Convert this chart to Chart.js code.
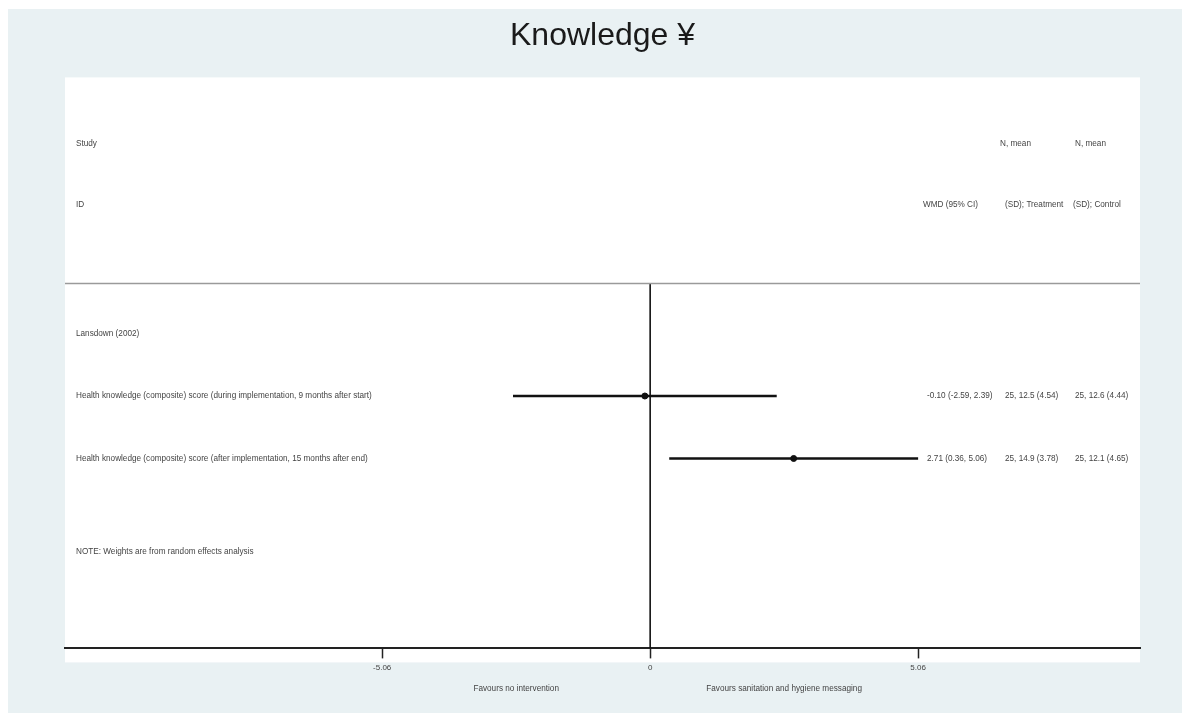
<!DOCTYPE html>
<html>
<head>
<meta charset="utf-8">
<title>Knowledge forest plot</title>
<script src="https://cdn.jsdelivr.net/npm/chart.js@4"></script>
<style>
    html, body { margin: 0; padding: 0; background: #ffffff; }
    #wrap { width: 1182px; height: 713px; }
</style>
</head>
<body>
<div id="wrap"><canvas id="forestChart" width="1182" height="713"></canvas></div>
<script>
// Study rows
const studyName = 'Lansdown (2002)';
const outcomes = [
    'Health knowledge (composite) score (during implementation, 9 months after start)',
    'Health knowledge (composite) score (after implementation, 15 months after end)'
];
const wmd = [-0.10, 2.71];
const lower = [-2.59, 0.36];
const upper = [2.39, 5.06];
const wmdText = ['-0.10 (-2.59, 2.39)', '2.71 (0.36, 5.06)'];
const treatmentText = ['25, 12.5 (4.54)', '25, 14.9 (3.78)'];
const controlText = ['25, 12.6 (4.44)', '25, 12.1 (4.65)'];

// Axis ticks
const tickValues = [-5.06, 0, 5.06];
const tickLabels = ['-5.06', '0', '5.06'];
const favourLabels = ['Favours no intervention', 'Favours sanitation and hygiene messaging'];

// row positions (y units, top = 0)
const headerRows = [1.06, 2.04];
const separatorRow = 3.3;
const studyRow = 4.1;
const outcomeRows = [5.1, 6.1];
const noteRow = 7.6;
const xMin = -11.05, xMax = 9.25, yMax = 9.14;

const textFont = '8.2px "Liberation Sans", Arial, sans-serif';
const textColor = '#444444';

// Function to paint the background panels
const backgroundPlugin = {
    id: 'background',
    beforeDraw(chart) {
        const ctx = chart.ctx;
        const area = chart.chartArea;
        ctx.save();
        ctx.fillStyle = '#ffffff';
        ctx.fillRect(0, 0, chart.width, chart.height);
        ctx.fillStyle = '#e9f1f3';
        ctx.fillRect(8, 9, chart.width - 8, chart.height - 9);
        ctx.fillStyle = '#ffffff';
        ctx.fillRect(area.left, area.top, area.right - area.left, area.bottom - area.top + 14);
        ctx.restore();
    }
};

// Function to write the table text next to the plot
const tablePlugin = {
    id: 'tableText',
    afterDraw(chart) {
        const ctx = chart.ctx;
        const x = chart.scales.x;
        const y = chart.scales.y;
        const left = chart.chartArea.left + 11;
        ctx.save();
        ctx.font = textFont;
        ctx.fillStyle = textColor;
        ctx.textBaseline = 'middle';
        ctx.textAlign = 'left';

        ctx.fillText('Study', left, y.getPixelForValue(headerRows[0]));
        ctx.fillText('ID', left, y.getPixelForValue(headerRows[1]));
        ctx.fillText('N, mean', 1000, y.getPixelForValue(headerRows[0]));
        ctx.fillText('N, mean', 1075, y.getPixelForValue(headerRows[0]));
        ctx.fillText('WMD (95% CI)', 923, y.getPixelForValue(headerRows[1]));
        ctx.fillText('(SD); Treatment', 1005, y.getPixelForValue(headerRows[1]));
        ctx.fillText('(SD); Control', 1073, y.getPixelForValue(headerRows[1]));

        ctx.fillText(studyName, left, y.getPixelForValue(studyRow));
        outcomes.forEach((name, i) => {
            const py = y.getPixelForValue(outcomeRows[i]);
            ctx.fillText(name, left, py);
            ctx.fillText(wmdText[i], 927, py);
            ctx.fillText(treatmentText[i], 1005, py);
            ctx.fillText(controlText[i], 1075, py);
        });
        ctx.fillText('NOTE: Weights are from random effects analysis', left, y.getPixelForValue(noteRow));

        ctx.textAlign = 'center';
        const fy = chart.chartArea.bottom + 40;
        ctx.fillText(favourLabels[0], x.getPixelForValue(tickValues[0] / 2), fy);
        ctx.fillText(favourLabels[1], x.getPixelForValue(tickValues[2] / 2), fy);
        ctx.restore();
    }
};

function buildChart() {
    const datasets = [];

    // separator under the header
    datasets.push({
        data: [{ x: xMin, y: separatorRow }, { x: xMax, y: separatorRow }],
        showLine: true, borderColor: '#9a9a9a', borderWidth: 1.5, pointRadius: 0
    });
    // line of no effect
    datasets.push({
        data: [{ x: 0, y: separatorRow }, { x: 0, y: yMax }],
        showLine: true, borderColor: '#111111', borderWidth: 1.6, pointRadius: 0
    });
    // confidence intervals
    outcomes.forEach((name, i) => {
        datasets.push({
            data: [{ x: lower[i], y: outcomeRows[i] }, { x: upper[i], y: outcomeRows[i] }],
            showLine: true, borderColor: '#111111', borderWidth: 2.5, pointRadius: 0
        });
    });
    // point estimates
    datasets.push({
        data: wmd.map((v, i) => ({ x: v, y: outcomeRows[i] })),
        showLine: false, pointRadius: 3, pointBackgroundColor: '#111111', pointBorderColor: '#111111'
    });

    const ctx = document.getElementById('forestChart').getContext('2d');
    new Chart(ctx, {
        type: 'scatter',
        data: { datasets: datasets },
        options: {
            responsive: false,
            animation: false,
            layout: { padding: { left: 65, right: 42, top: 0, bottom: 35 } },
            plugins: {
                legend: { display: false },
                tooltip: { enabled: false },
                title: {
                    display: true,
                    text: 'Knowledge \u00a5',
                    color: '#1a1a1a',
                    font: { family: '"Liberation Sans", Arial, sans-serif', size: 32, weight: 'normal' },
                    padding: { top: 17, bottom: 22 }
                }
            },
            scales: {
                x: {
                    type: 'linear',
                    min: xMin,
                    max: xMax,
                    afterBuildTicks: axis => { axis.ticks = tickValues.map(v => ({ value: v })); },
                    ticks: {
                        autoSkip: false,
                        maxRotation: 0,
                        color: textColor,
                        font: { family: '"Liberation Sans", Arial, sans-serif', size: 8 },
                        padding: 5,
                        callback: (value) => tickLabels[tickValues.indexOf(value)]
                    },
                    grid: {
                        drawOnChartArea: false,
                        drawTicks: true,
                        tickLength: 10,
                        tickWidth: 1.5,
                        tickColor: '#222222'
                    },
                    border: { display: true, color: '#222222', width: 2 }
                },
                y: {
                    type: 'linear',
                    display: false,
                    reverse: true,
                    min: 0,
                    max: yMax
                }
            }
        },
        plugins: [backgroundPlugin, tablePlugin]
    });
}

document.addEventListener('DOMContentLoaded', buildChart);
</script>
</body>
</html>
